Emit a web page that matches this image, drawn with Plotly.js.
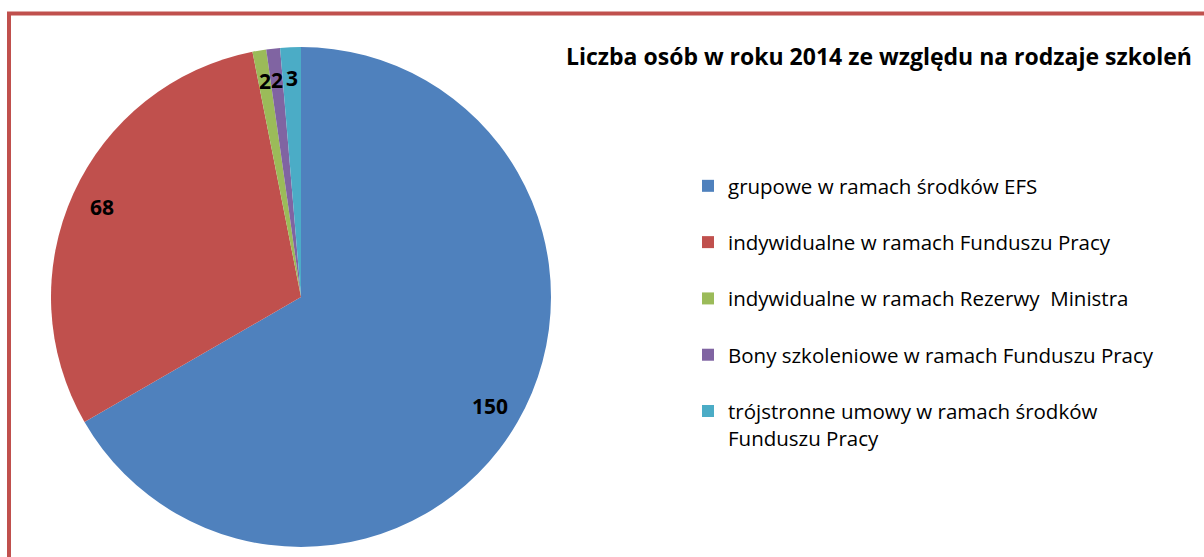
<!DOCTYPE html>
<html>
<head>
<meta charset="utf-8">
<script src="https://cdn.plot.ly/plotly-3.0.1.min.js"></script>
<style>html,body{margin:0;padding:0;background:#fff;overflow:hidden}#chart{width:1204px;height:557px}</style>
</head>
<body>
<div id="chart"></div>
<script>
const categories = [
  "grupowe w ramach środków EFS",
  "indywidualne w ramach Funduszu Pracy",
  "indywidualne w ramach Rezerwy  Ministra",
  "Bony szkoleniowe w ramach Funduszu Pracy",
  "trójstronne umowy w ramach środków<br>Funduszu Pracy"
];
const values = [150, 68, 2, 2, 3];
const colors = ["#4F81BD", "#C0504D", "#9BBB59", "#8064A2", "#4BACC6"];
const titleText = "Liczba osób w roku 2014 ze względu na rodzaje szkoleń";

const W = 1204, H = 557;
const cx = 301, cy = 297, R = 250;

// legend labels padded to two lines so items are evenly spaced
const legendLabels = categories.map(c => c.includes("<br>") ? c : c + "<br>&nbsp;");

const pie = {
  type: "pie",
  labels: legendLabels,
  values: values,
  sort: false,
  direction: "clockwise",
  rotation: 0,
  marker: {colors: colors, line: {color: "#ffffff", width: 0}},
  textinfo: "none",
  hoverinfo: "label+value",
  domain: {x: [(cx - R) / W, (cx + R) / W], y: [(H - cy - R) / H, (H - cy + R) / H]}
};

// value labels placed at each slice's mid-angle, computed from the data
const total = values.reduce((a, b) => a + b, 0);
let cum = 0;
const annotations = values.map(v => {
  const mid = (cum + v / 2) / total * 2 * Math.PI;
  cum += v;
  const rr = 0.875 * R;
  return {
    x: (cx + rr * Math.sin(mid)) / W,
    y: (H - cy + rr * Math.cos(mid)) / H,
    xref: "paper", yref: "paper",
    text: String(v), showarrow: false,
    font: {family: "Open Sans, sans-serif", size: 21, color: "#000", weight: "bold"},
    xanchor: "center", yanchor: "middle"
  };
});

const layout = {
  width: W, height: H,
  margin: {l: 0, r: 0, t: 0, b: 0},
  paper_bgcolor: "#ffffff",
  showlegend: true,
  title: {
    text: "<b>" + titleText + "</b>",
    x: 566 / W, xanchor: "left",
    y: 1 - 57 / H, yanchor: "middle",
    font: {family: "Open Sans, sans-serif", size: 23, color: "#000"}
  },
  legend: {
    x: 688 / W, xanchor: "left",
    y: 1 - 166 / H, yanchor: "top",
    valign: "top",
    font: {family: "Open Sans, sans-serif", size: 20.5, color: "#000"},
    bgcolor: "rgba(0,0,0,0)"
  },
  annotations: annotations,
  shapes: [{
    type: "rect", xref: "paper", yref: "paper",
    x0: 9 / W, x1: 1.02, y0: -0.05, y1: 1 - 13.5 / H,
    line: {color: "#C0504D", width: 4}, fillcolor: "rgba(0,0,0,0)", layer: "below"
  }]
};

Plotly.newPlot("chart", [pie], layout, {displayModeBar: false, staticPlot: true});
</script>
</body>
</html>
